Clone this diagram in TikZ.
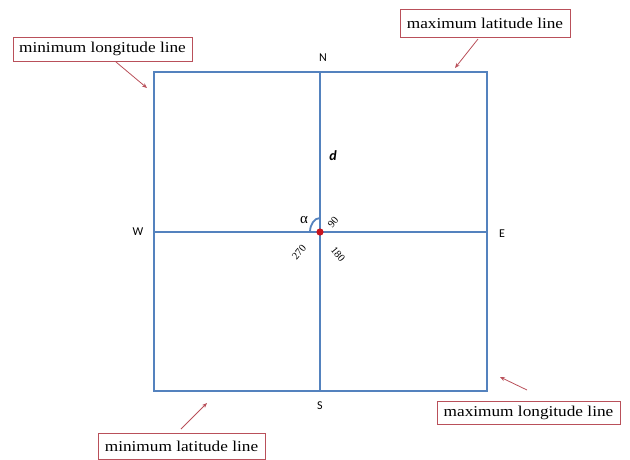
\documentclass[tikz,border=0pt]{standalone}
\usepackage{fontspec}
\setmainfont{Liberation Serif}
\newfontfamily\calib{Carlito}
\usetikzlibrary{arrows.meta}
\definecolor{gridblue}{RGB}{84,130,190}
\definecolor{callred}{RGB}{185,80,90}
\definecolor{dotred}{RGB}{200,20,30}
\begin{document}
\begin{tikzpicture}[x=1pt,y=-1pt,
  gridline/.style={draw=gridblue,line width=1.6pt},
  callout/.style={draw=callred,line width=0.8pt,fill=white,inner sep=0pt,
    font=\fontsize{15}{17}\selectfont},
  callarrow/.style={draw=callred,line width=0.8pt,-{Stealth[length=5pt,width=4pt]}},
  dirlabel/.style={font=\calib\fontsize{12}{14}\selectfont},
  anglabel/.style={font=\fontsize{10.5}{12}\selectfont,inner sep=0pt}]
\useasboundingbox (0,0) rectangle (630,459);
% square corners
\coordinate (tl) at (154,72);
\coordinate (tr) at (487,72);
\coordinate (br) at (487,391);
\coordinate (bl) at (154,391);
\coordinate (nt) at (320,72);
\coordinate (sb) at (320,391);
\coordinate (wl) at (154,232);
\coordinate (er) at (487,232);
\coordinate (c) at (320,232);
\draw[gridline] (tl) -- (tr) -- (br) -- (bl) -- cycle;
\draw[gridline] (nt) -- (sb);
\draw[gridline] (wl) -- (er);
% angle arc
\draw[draw=gridblue,line width=1.8pt] (310,232) arc[start angle=180,end angle=270,x radius=10,y radius=14];
\fill[dotred] (c) circle[radius=3.6pt];
% direction labels
\node[dirlabel] (N) at (323,58) {N};
\node[dirlabel] (S) at (320,406) {S};
\node[dirlabel] (W) at (138,232) {W};
\node[dirlabel] (E) at (502,234) {E};
\node[font=\calib\bfseries\itshape\fontsize{14}{16}\selectfont] (d) at (333,156) {d};
\node[font=\fontsize{15}{17}\selectfont,inner sep=0pt] (alpha) at (304,220) {α};
\node[anglabel,rotate=50] (a90) at (333,222) {90};
\node[anglabel,rotate=50] (a270) at (299,252) {270};
\node[anglabel,rotate=-50] (a180) at (338,254) {180};
% callouts
\node[callout,minimum width=179pt,minimum height=24pt] (minlon) at (102.5,49) {\scalebox{1.15}[1]{minimum longitude line}};
\node[callout,minimum width=170pt,minimum height=28pt] (maxlat) at (485,23) {\scalebox{1.15}[1]{maximum latitude line}};
\node[callout,minimum width=167pt,minimum height=26pt] (minlat) at (181.5,446) {\scalebox{1.15}[1]{minimum latitude line}};
\node[callout,minimum width=183pt,minimum height=23pt] (maxlon) at (528.5,412.5) {\scalebox{1.15}[1]{maximum longitude line}};
% arrow targets
\coordinate (t1) at (147,88);
\coordinate (t2) at (455,68);
\coordinate (t3) at (207,403);
\coordinate (t4) at (500,377);
\coordinate (s1) at (116,62);
\coordinate (s2) at (478,39);
\coordinate (s3) at (181,429);
\coordinate (s4) at (527,390);
\draw[callarrow] (s1) -- (t1);
\draw[callarrow] (s2) -- (t2);
\draw[callarrow] (s3) -- (t3);
\draw[callarrow] (s4) -- (t4);
\end{tikzpicture}
\end{document}
